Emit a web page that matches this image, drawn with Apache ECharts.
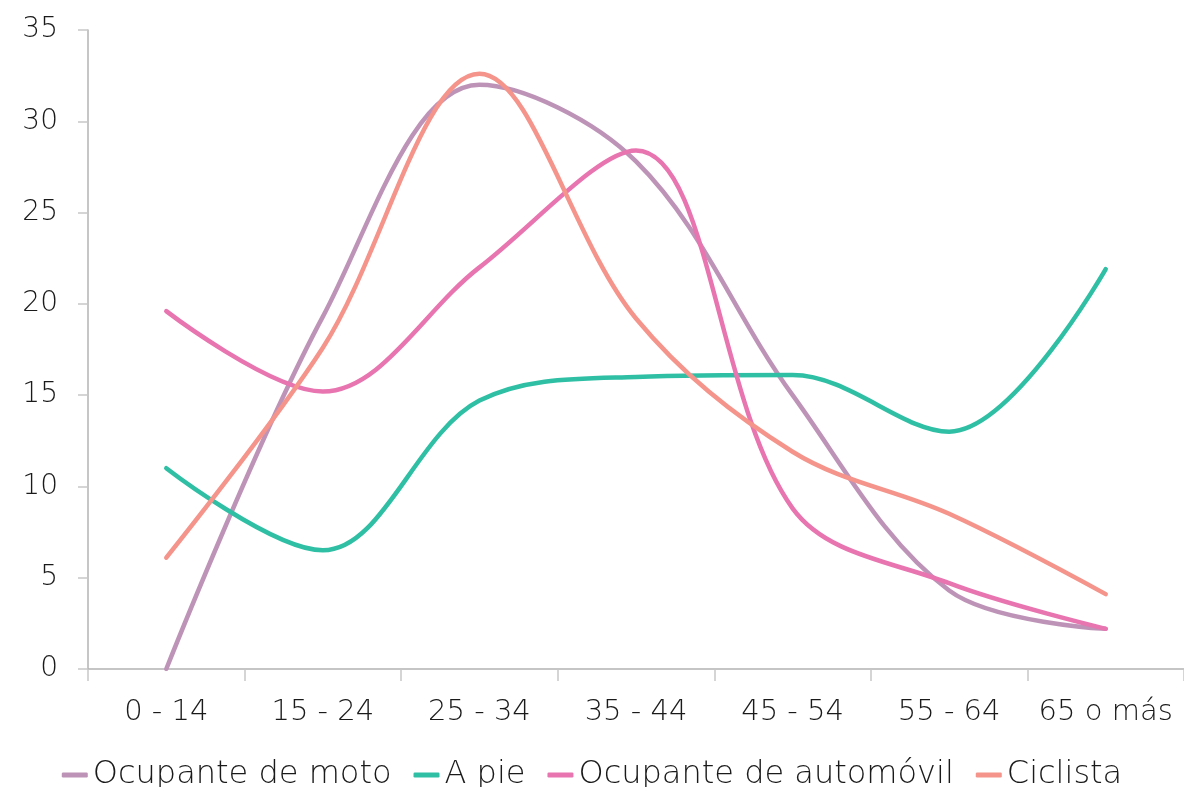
<!DOCTYPE html>
<html>
<head>
<meta charset="utf-8">
<script src="https://cdn.jsdelivr.net/npm/echarts@6/dist/echarts.min.js"></script>
<style>
html,body{margin:0;padding:0;background:#fff;}
#chart{width:1184px;height:787px;}
</style>
</head>
<body>
<div id="chart"></div>
<script>
const categories = ['0 - 14', '15 - 24', '25 - 34', '35 - 44', '45 - 54', '55 - 64', '65 o más'];
const moto = [0, 19.3, 32, 27.8, 15.0, 4.3, 2.2];
const aPie = [11, 6.5, 14.7, 16.0, 16.1, 13.0, 21.9];
const automovil = [19.6, 15.2, 22.0, 28.4, 8.8, 4.7, 2.2];
const ciclista = [6.1, 17.6, 32.6, 19.2, 11.9, 8.5, 4.1];
const seriesNames = ['Ocupante de moto', 'A pie', 'Ocupante de automóvil', 'Ciclista'];
const colors = ['#BE93B8', '#2EBFA5', '#E874B0', '#F4948A'];

const FONT = '"DejaVu Sans", "Noto Sans", sans-serif';
const chart = echarts.init(document.getElementById('chart'));
const mk = (name, data, color) => ({
  name, type: 'line', data, smooth: 0.35, symbol: 'none',
  lineStyle: { width: 4.5, color, cap: 'round' }, itemStyle: { color }
});
chart.setOption({
  animation: false,
  color: colors,
  grid: { left: 88, top: 30, width: 1099, height: 639, containLabel: false },
  legend: {
    top: 754, left: 'center',
    icon: 'roundRect', itemWidth: 26, itemHeight: 5, itemGap: 22,
    textStyle: { fontFamily: FONT, fontSize: 32, fontWeight: 200, color: '#1a1a1a' },
    data: seriesNames
  },
  xAxis: {
    type: 'category', data: categories, boundaryGap: true,
    axisLine: { lineStyle: { color: '#b3b3b3', width: 1.5 } },
    axisTick: { show: true, length: 12, lineStyle: { color: '#c8c8c8', width: 1.5 } },
    axisLabel: { fontFamily: FONT, fontSize: 29, fontWeight: 200, color: '#1a1a1a', margin: 29, interval: 0 },
    splitLine: { show: false }
  },
  yAxis: {
    type: 'value', min: 0, max: 35, interval: 5,
    axisLine: { show: true, lineStyle: { color: '#b3b3b3', width: 1.5 } },
    axisTick: { show: true, length: 10, lineStyle: { color: '#c8c8c8', width: 1.5 } },
    axisLabel: { fontFamily: FONT, fontSize: 28, fontWeight: 200, color: '#1a1a1a', margin: 30 },
    splitLine: { show: false }
  },
  series: [
    mk(seriesNames[0], moto, colors[0]),
    mk(seriesNames[1], aPie, colors[1]),
    mk(seriesNames[2], automovil, colors[2]),
    mk(seriesNames[3], ciclista, colors[3])
  ]
});
</script>
</body>
</html>
